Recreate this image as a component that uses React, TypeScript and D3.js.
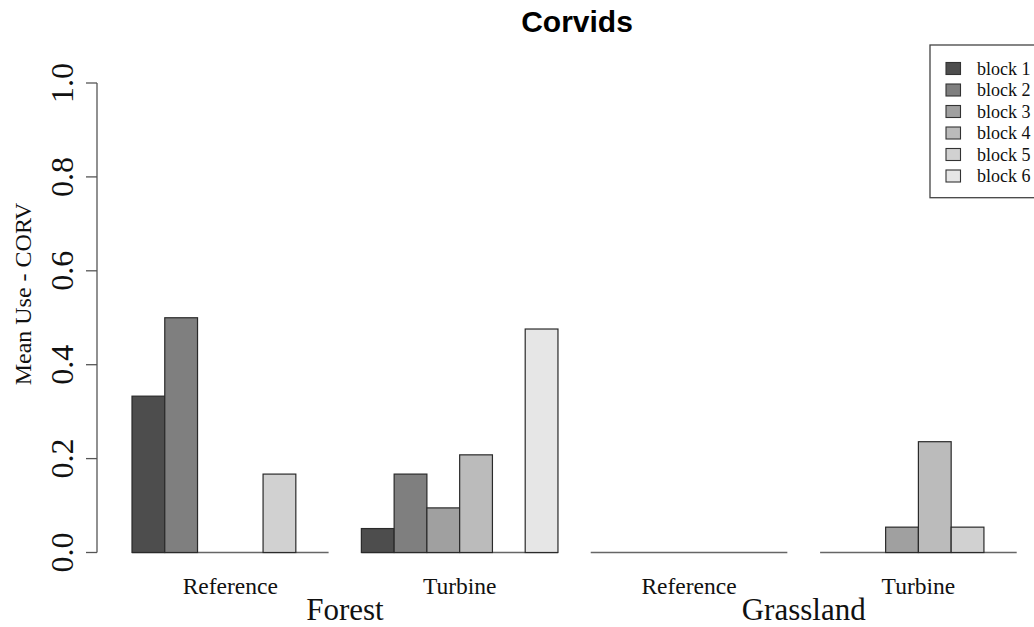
import React from "react";
import * as d3 from "d3";

const blocks = ["block 1", "block 2", "block 3", "block 4", "block 5", "block 6"];
const groupKeys = ["Forest Reference", "Forest Turbine", "Grassland Reference", "Grassland Turbine"];
const siteLabels = ["Reference", "Turbine", "Reference", "Turbine"];
const habitats = ["Forest", "Grassland"];
const forestReference = [0.333, 0.5, 0, 0, 0.167, 0];
const forestTurbine = [0.051, 0.167, 0.095, 0.208, 0, 0.476];
const grasslandReference = [0, 0, 0, 0, 0, 0];
const grasslandTurbine = [0, 0, 0.054, 0.236, 0.054, 0];
const groupValues = [forestReference, forestTurbine, grasslandReference, grasslandTurbine];
const yTicks = [0, 0.2, 0.4, 0.6, 0.8, 1.0];
const colors = ["#4D4D4D", "#7F7F7F", "#A0A0A0", "#BBBBBB", "#D1D1D1", "#E6E6E6"];

const W = 1034;
const H = 627;
const serif = "'Liberation Serif', 'Times New Roman', serif";
const sans = "'Liberation Sans', Arial, sans-serif";

export default function App() {
  const x0 = d3.scaleBand<string>().domain(groupKeys).range([132, 1016.7]).paddingInner(1 / 7).paddingOuter(0);
  const x1 = d3.scaleBand<string>().domain(blocks).range([0, x0.bandwidth()]).padding(0);
  const y = d3.scaleLinear().domain([0, 1]).range([552.5, 83]);
  const color = d3.scaleOrdinal<string, string>().domain(blocks).range(colors);

  const groupCenter = (i: number) => (x0(groupKeys[i]) ?? 0) + x0.bandwidth() / 2;

  return (
    <svg width={W} height={H} style={{ display: "block", position: "absolute", left: 0, top: 0, background: "#fff" }}>
      <rect x={0} y={0} width={W} height={H} fill="#fff" />
      <text x={577} y={32} textAnchor="middle" fontFamily={sans} fontWeight="bold" fontSize={30} fill="#000">
        Corvids
      </text>

      {/* bars */}
      {groupKeys.map((g, gi) => (
        <g key={g} transform={`translate(${x0(g)},0)`}>
          <line x1={0} x2={x0.bandwidth()} y1={y(0)} y2={y(0)} stroke="#666" strokeWidth={1.5} />
          {blocks.map((b, bi) => {
            const v = groupValues[gi][bi];
            if (v <= 0) return null;
            return (
              <rect
                key={b}
                x={x1(b)}
                y={y(v)}
                width={x1.bandwidth()}
                height={y(0) - y(v)}
                fill={color(b)}
                stroke="#2a2a2a"
                strokeWidth={1.2}
              />
            );
          })}
        </g>
      ))}

      {/* y axis */}
      <line x1={97} x2={97} y1={y(0)} y2={y(1)} stroke="#555" strokeWidth={1.3} />
      {yTicks.map((t) => (
        <g key={t}>
          <line x1={86} x2={97} y1={y(t)} y2={y(t)} stroke="#555" strokeWidth={1.3} />
          <text
            transform={`translate(73,${y(t)}) rotate(-90)`}
            textAnchor="middle"
            fontFamily={serif}
            fontSize={32}
            fill="#111"
          >
            {d3.format(".1f")(t)}
          </text>
        </g>
      ))}
      <text transform={`translate(31,294) rotate(-90)`} textAnchor="middle" fontFamily={serif} fontSize={24} fill="#111">
        Mean Use - CORV
      </text>

      {/* x labels */}
      {siteLabels.map((s, i) => (
        <text key={i} x={groupCenter(i)} y={594} textAnchor="middle" fontFamily={serif} fontSize={23.5} fill="#111">
          {s}
        </text>
      ))}
      {habitats.map((h, i) => (
        <text
          key={h}
          x={(groupCenter(i * 2) + groupCenter(i * 2 + 1)) / 2}
          y={620}
          textAnchor="middle"
          fontFamily={serif}
          fontSize={31}
          fill="#111"
        >
          {h}
        </text>
      ))}

      {/* legend */}
      <rect x={930} y={45} width={120} height={152.7} fill="#fff" stroke="#444" strokeWidth={1.3} />
      {blocks.map((b, i) => {
        const cy = 68.5 + i * 21.5;
        return (
          <g key={b}>
            <rect x={946} y={cy - 6} width={14.5} height={12} fill={color(b)} stroke="#333" strokeWidth={1.1} />
            <text x={977} y={cy} dominantBaseline="central" fontFamily={serif} fontSize={18} fill="#111">
              {b}
            </text>
          </g>
        );
      })}
    </svg>
  );
}
